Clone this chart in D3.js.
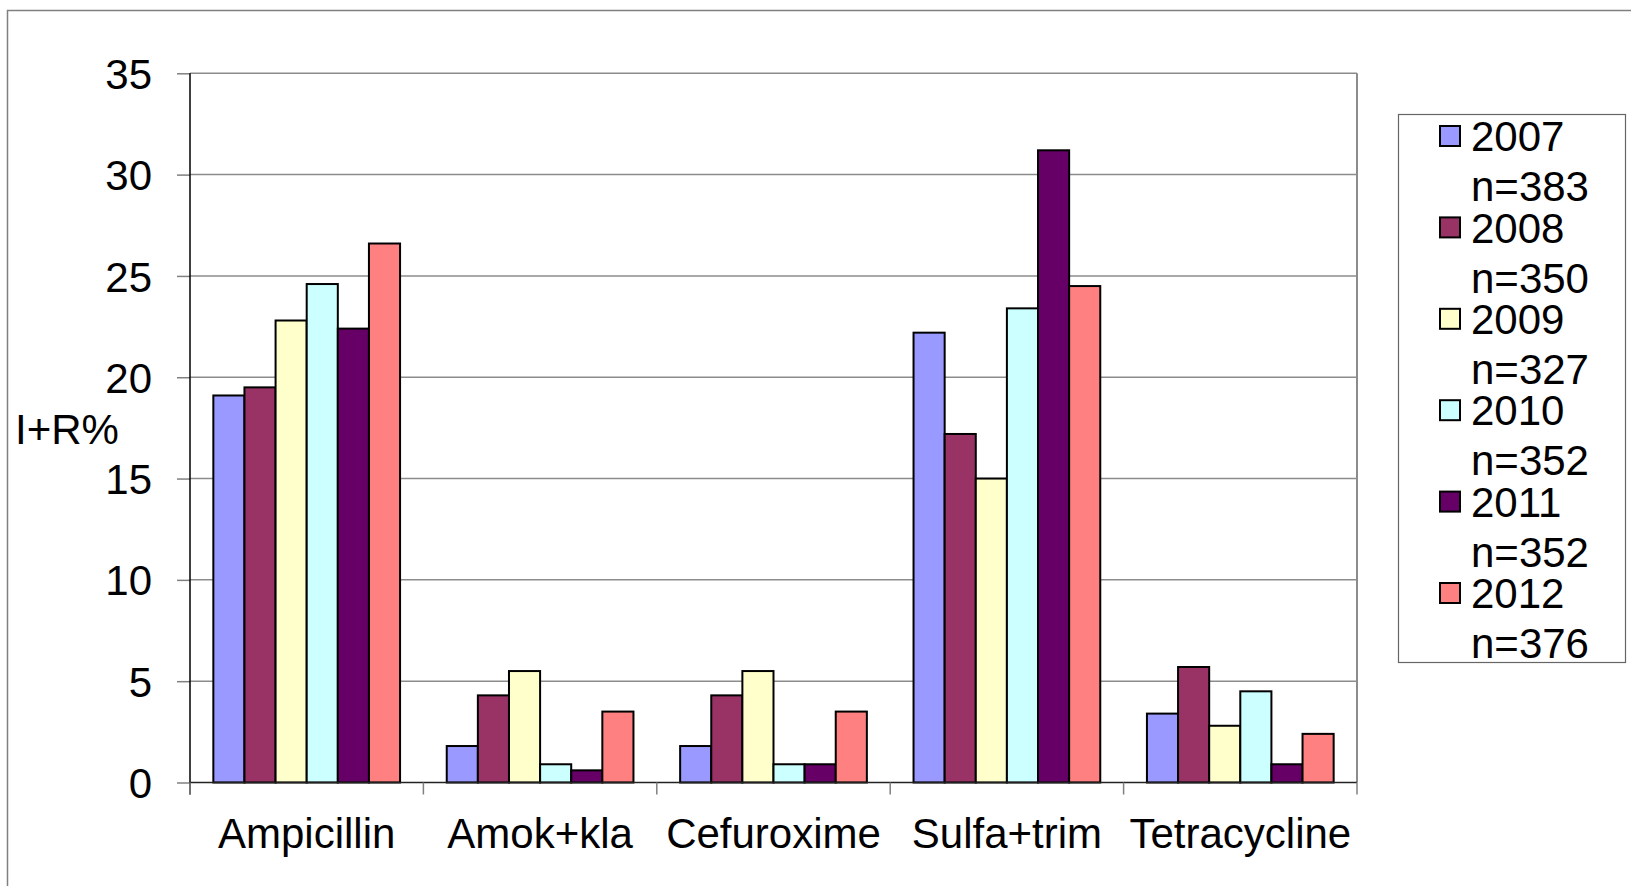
<!DOCTYPE html>
<html>
<head>
<meta charset="utf-8">
<script src="https://cdn.jsdelivr.net/npm/d3@7"></script>
<style>
  html, body { margin: 0; padding: 0; background: #fff; }
  svg { display: block; }
  text { font-family: "Liberation Sans", Arial, sans-serif; fill: #000; }
</style>
</head>
<body>
<svg id="chart" width="1631" height="886"></svg>
<script>
const categories = ["Ampicillin", "Amok+kla", "Cefuroxime", "Sulfa+trim", "Tetracycline"];
const years = ["2007", "2008", "2009", "2010", "2011", "2012"];
const sampleSizes = ["n=383", "n=350", "n=327", "n=352", "n=352", "n=376"];
const colors = ["#9999FF", "#993366", "#FFFFCC", "#CCFFFF", "#660066", "#FF8080"];
const v2007 = [19.1, 1.8, 1.8, 22.2, 3.4];
const v2008 = [19.5, 4.3, 4.3, 17.2, 5.7];
const v2009 = [22.8, 5.5, 5.5, 15.0, 2.8];
const v2010 = [24.6, 0.9, 0.9, 23.4, 4.5];
const v2011 = [22.4, 0.6, 0.9, 31.2, 0.9];
const v2012 = [26.6, 3.5, 3.5, 24.5, 2.4];
const yTicks = [0, 5, 10, 15, 20, 25, 30, 35];
const yLabel = "I+R%";

const seriesValues = [v2007, v2008, v2009, v2010, v2011, v2012];

(function () {
const svg = d3.select("#chart");
const FONT = 42;

// outer frame
svg.append("rect")
  .attr("x", 7.5).attr("y", 10.5).attr("width", 1800).attr("height", 1000)
  .attr("fill", "none").attr("stroke", "#808080").attr("stroke-width", 1.5);

const pL = 190, pR = 1357, pT = 73.3, pB = 782.5;

const x0 = d3.scaleBand().domain(categories).range([pL, pR]).padding(0);
const bw = x0.bandwidth();
const x1 = d3.scaleBand().domain(years).range([bw * 0.1, bw * 0.9]).padding(0);
const y = d3.scaleLinear().domain([0, 35]).range([pB, pT]);

// gridlines
svg.append("g").selectAll("line").data(yTicks.filter(d => d > 0)).join("line")
  .attr("x1", pL).attr("x2", pR)
  .attr("y1", d => y(d)).attr("y2", d => y(d))
  .attr("stroke", "#8c8c8c").attr("stroke-width", 1.5);

// right plot border
svg.append("line")
  .attr("x1", pR).attr("x2", pR).attr("y1", pT).attr("y2", pB)
  .attr("stroke", "#8c8c8c").attr("stroke-width", 2);

// bars
const groups = svg.append("g").selectAll("g").data(categories).join("g")
  .attr("transform", d => `translate(${x0(d)},0)`);
groups.selectAll("rect")
  .data((c, ci) => years.map((yr, si) => ({ yr, si, v: seriesValues[si][ci] })))
  .join("rect")
  .attr("x", d => x1(d.yr))
  .attr("width", x1.bandwidth())
  .attr("y", d => y(d.v))
  .attr("height", d => y(0) - y(d.v))
  .attr("fill", d => colors[d.si])
  .attr("stroke", "#000").attr("stroke-width", 2);

// y axis
const yAxis = svg.append("g").attr("transform", `translate(${pL},0)`)
  .call(d3.axisLeft(y).tickValues(yTicks).tickSize(13).tickPadding(25).tickFormat(d3.format("d")));
yAxis.select(".domain").remove();
yAxis.selectAll(".tick line").attr("stroke", "#808080").attr("stroke-width", 1.5);
yAxis.selectAll(".tick text").style("font-size", FONT + "px")
  .style("font-family", '"Liberation Sans", Arial, sans-serif').attr("dy", "0.36em");
svg.append("line").attr("x1", pL).attr("x2", pL).attr("y1", pT).attr("y2", pB + 12)
  .attr("stroke", "#000").attr("stroke-width", 1.5);

// x axis
const xAxis = svg.append("g").attr("transform", `translate(0,${pB})`)
  .call(d3.axisBottom(x0).tickSize(0).tickPadding(50));
xAxis.select(".domain").remove();
xAxis.selectAll(".tick text").style("font-size", FONT + "px")
  .style("font-family", '"Liberation Sans", Arial, sans-serif').attr("dy", "0.36em");
svg.append("line").attr("x1", pL).attr("x2", pR).attr("y1", pB).attr("y2", pB)
  .attr("stroke", "#222").attr("stroke-width", 1.5);
const boundaries = categories.map(c => x0(c)).concat([pR]);
svg.append("g").selectAll("line").data(boundaries).join("line")
  .attr("x1", d => d).attr("x2", d => d).attr("y1", pB).attr("y2", pB + 12)
  .attr("stroke", "#808080").attr("stroke-width", 1.5);

// y label
svg.append("text").attr("x", 15).attr("y", 428.5).attr("dy", "0.36em")
  .style("font-size", FONT + "px").text(yLabel);

// legend
const lg = svg.append("g");
lg.append("rect").attr("x", 1398.5).attr("y", 114.5).attr("width", 227).attr("height", 548)
  .attr("fill", "#fff").attr("stroke", "#666").attr("stroke-width", 1.2);
const step = 91.4;
years.forEach((yr, i) => {
  const cy = 136 + i * step;
  lg.append("rect").attr("x", 1440).attr("y", cy - 10).attr("width", 20).attr("height", 20)
    .attr("fill", colors[i]).attr("stroke", "#000").attr("stroke-width", 2);
  lg.append("text").attr("x", 1471).attr("y", cy).attr("dy", "0.36em")
    .style("font-size", FONT + "px").text(yr);
  lg.append("text").attr("x", 1471).attr("y", cy + 50).attr("dy", "0.36em")
    .style("font-size", FONT + "px").text(sampleSizes[i]);
});
})();
</script>
</body>
</html>
